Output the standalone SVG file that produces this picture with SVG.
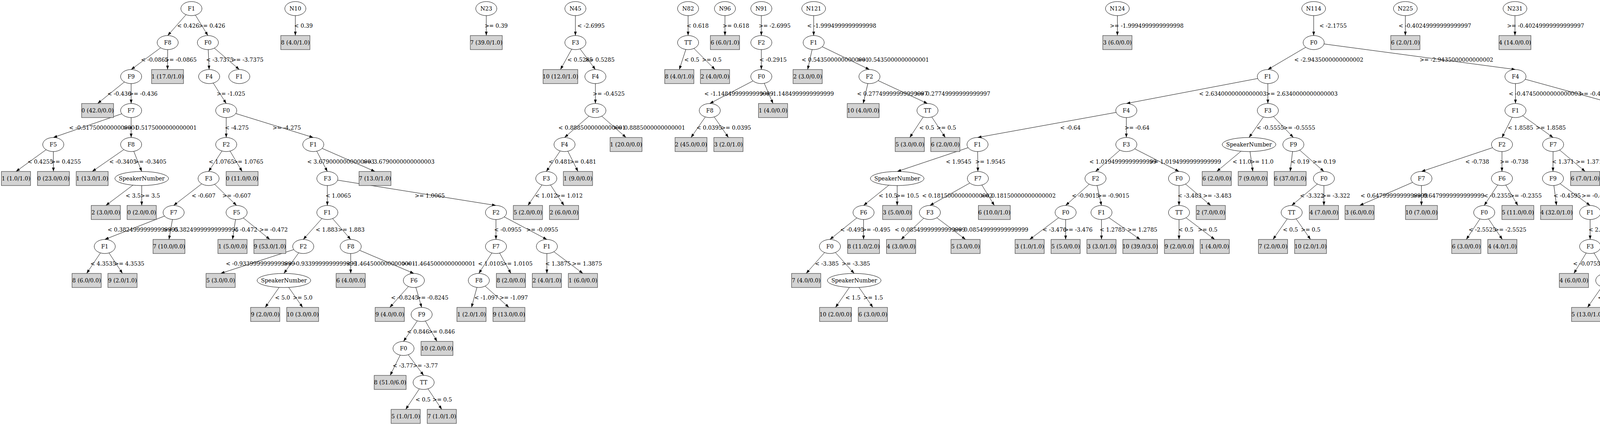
<svg xmlns="http://www.w3.org/2000/svg" width="4900" height="1088" viewBox="0 0 4900 1088">
<style>
text{font-family:"DejaVu Serif","Liberation Serif",serif;font-size:14px;text-anchor:middle;fill:#000}
.s{text-anchor:start}
.en{text-anchor:end}
.n ellipse{fill:#fff;stroke:#000;stroke-width:1}
.l rect{fill:#d3d3d3;stroke:#444;stroke-width:1.2}
#edges path{fill:none;stroke:#000;stroke-width:1;marker-end:url(#ah)}
</style>
<defs>
<marker id="ah" markerUnits="userSpaceOnUse" markerWidth="10" markerHeight="7" refX="10" refY="3.5" orient="auto">
<path d="M0,0L10,3.5L0,7z" fill="#000"/>
</marker>
</defs>
<rect width="4900" height="1088" fill="#fff"/>
<g id="edges">
<path d="M490,22L429.3,91"/><path d="M490,22L532.2,91"/>
<path d="M429.3,109L335.7,178"/><path d="M429.3,109L428.9,178"/>
<path d="M532.2,109L535.4,178"/><path d="M532.2,109L612.6,178"/>
<path d="M335.7,196L249.8,265"/><path d="M335.7,196L335.7,265"/>
<path d="M535.4,196L579.1,265"/>
<path d="M335.7,283L136.4,352"/><path d="M335.7,283L335.7,352"/>
<path d="M579.1,283L579.1,352"/><path d="M579.1,283L802,352"/>
<path d="M136.4,370L40.9,439"/><path d="M136.4,370L136.8,439"/>
<path d="M335.7,370L236,439"/><path d="M335.7,370L362.8,439"/>
<path d="M579.1,370L534,439"/><path d="M579.1,370L619.8,439"/>
<path d="M802,370L838,439"/><path d="M802,370L960,439"/>
<path d="M362.8,457L270.9,526"/><path d="M362.8,457L362.8,526"/>
<path d="M534,457L444.5,526"/><path d="M534,457L605.7,526"/>
<path d="M838,457L838,526"/><path d="M838,457L1269.7,526"/>
<path d="M444.5,544L268.2,613"/><path d="M444.5,544L432.6,613"/>
<path d="M605.7,544L595.2,613"/><path d="M605.7,544L690.8,613"/>
<path d="M838,544L776.3,613"/><path d="M838,544L897.8,613"/>
<path d="M1269.7,544L1269.7,613"/><path d="M1269.7,544L1400,613"/>
<path d="M268.2,631L221.8,700"/><path d="M268.2,631L313.6,700"/>
<path d="M776.3,631L564.8,700"/><path d="M776.3,631L726.8,700"/>
<path d="M897.8,631L897.8,700"/><path d="M897.8,631L1059.5,700"/>
<path d="M1269.7,631L1225.8,700"/><path d="M1269.7,631L1308,700"/>
<path d="M1400,631L1400,700"/><path d="M1400,631L1492.3,700"/>
<path d="M726.8,718L678.9,787"/><path d="M726.8,718L774.8,787"/>
<path d="M1059.5,718L997.8,787"/><path d="M1059.5,718L1079.4,787"/>
<path d="M1225.8,718L1207,787"/><path d="M1225.8,718L1302.9,787"/>
<path d="M1079.4,805L1033,874"/><path d="M1079.4,805L1118.7,874"/>
<path d="M1033,892L998.8,961"/><path d="M1033,892L1084.5,961"/>
<path d="M1084.5,979L1038.6,1048"/><path d="M1084.5,979L1131,1048"/>
<path d="M756.1,22L756.1,91"/>
<path d="M1244.9,22L1244.9,91"/>
<path d="M1473,22L1473,91"/>
<path d="M1473,109L1434.7,178"/><path d="M1473,109L1524.2,178"/>
<path d="M1524.2,196L1524.2,265"/>
<path d="M1524.2,283L1445.2,352"/><path d="M1524.2,283L1602.7,352"/>
<path d="M1445.2,370L1398.5,439"/><path d="M1445.2,370L1479.6,439"/>
<path d="M1398.5,457L1351.5,526"/><path d="M1398.5,457L1443.9,526"/>
<path d="M1761.5,22L1761.5,91"/>
<path d="M1761.5,109L1739,178"/><path d="M1761.5,109L1830.4,178"/>
<path d="M1855.9,22L1855.9,91"/>
<path d="M1949,22L1949,91"/>
<path d="M1949,109L1949,178"/>
<path d="M1949,196L1817,265"/><path d="M1949,196L1979,265"/>
<path d="M1817,283L1769,352"/><path d="M1817,283L1864.8,352"/>
<path d="M2083,22L2083,91"/>
<path d="M2083,109L2067.6,178"/><path d="M2083,109L2225.8,178"/>
<path d="M2225.8,196L2209.8,265"/><path d="M2225.8,196L2374.4,265"/>
<path d="M2374.4,283L2329,352"/><path d="M2374.4,283L2420,352"/>
<path d="M2860.5,22L2860.5,91"/>
<path d="M3363,22L3363,91"/>
<path d="M3363,109L3245.7,178"/><path d="M3363,109L3879.6,178"/>
<path d="M3245.7,196L2883.4,265"/><path d="M3245.7,196L3245.7,265"/>
<path d="M3879.6,196L3879.6,265"/><path d="M3879.6,196L4130.2,265"/>
<path d="M2883.4,283L2502.5,352"/><path d="M2883.4,283L2883.4,352"/>
<path d="M3245.7,283L3197.5,352"/><path d="M3245.7,283L3311,352"/>
<path d="M3879.6,283L3845.1,352"/><path d="M3879.6,283L3976,352"/>
<path d="M4130.2,283L4149.7,352"/>
<path d="M2502.5,370L2296.8,439"/><path d="M2502.5,370L2503.4,439"/>
<path d="M2883.4,370L2804.5,439"/><path d="M2883.4,370L3018.3,439"/>
<path d="M3197.5,370L3114.9,439"/><path d="M3197.5,370L3207.2,439"/>
<path d="M3311,370L3302.9,439"/><path d="M3311,370L3389.2,439"/>
<path d="M3845.1,370L3638.9,439"/><path d="M3845.1,370L3845,439"/>
<path d="M3976,370L3975.6,439"/><path d="M3976,370L4058,439"/>
<path d="M4149.7,370L4149.8,439"/><path d="M4149.7,370L4318.6,439"/>
<path d="M2296.8,457L2210.7,526"/><path d="M2296.8,457L2296.8,526"/>
<path d="M2503.4,457L2380.5,526"/><path d="M2503.4,457L2545.5,526"/>
<path d="M2804.5,457L2728,526"/><path d="M2804.5,457L2819.8,526"/>
<path d="M3018.3,457L3018.3,526"/><path d="M3018.3,457L3099.6,526"/>
<path d="M3389.2,457L3306.7,526"/><path d="M3389.2,457L3389.2,526"/>
<path d="M3638.9,457L3480.6,526"/><path d="M3638.9,457L3638.9,526"/>
<path d="M3845,457L3799.6,526"/><path d="M3845,457L3885.7,526"/>
<path d="M3975.6,457L3984.7,526"/><path d="M3975.6,457L4070.7,526"/>
<path d="M2210.7,544L2124.6,613"/><path d="M2210.7,544L2210.7,613"/>
<path d="M2380.5,544L2306.8,613"/><path d="M2380.5,544L2471.8,613"/>
<path d="M2728,544L2635.9,613"/><path d="M2728,544L2728,613"/>
<path d="M2819.8,544L2819.8,613"/><path d="M2819.8,544L2918.8,613"/>
<path d="M3018.3,544L3018.3,613"/><path d="M3018.3,544L3109.7,613"/>
<path d="M3306.7,544L3258.9,613"/><path d="M3306.7,544L3355,613"/>
<path d="M3799.6,544L3753.7,613"/><path d="M3799.6,544L3846,613"/>
<path d="M4070.7,544L4070.7,613"/>
<path d="M2124.6,631L2063.8,700"/><path d="M2124.6,631L2186.8,700"/>
<path d="M4070.7,631L4029.2,700"/><path d="M4070.7,631L4112,700"/>
<path d="M2186.8,718L2138.9,787"/><path d="M2186.8,718L2234.6,787"/>
<path d="M4112,718L4064,787"/><path d="M4112,718L4160,787"/>
<path d="M3597.7,22L3597.7,91"/>
<path d="M3878.3,22L3878.3,91"/>
<path d="M4361.7,22L4361.7,91"/>
<path d="M4361.7,109L4316.9,178"/><path d="M4361.7,109L4403,178"/>
<path d="M4316.9,196L4230.8,265"/><path d="M4316.9,196L4316.9,265"/>
<path d="M4403,196L4403,265"/><path d="M4403,196L4498.9,265"/>
<path d="M4316.9,283L4275,352"/><path d="M4316.9,283L4436.9,352"/>
<path d="M4520.1,22L4520.1,91"/>
<path d="M4686,22L4686,91"/>
<path d="M4686,109L4607.3,178"/><path d="M4686,109L4765.2,178"/>
</g>
<g id="edge-labels">
<text x="481.7" y="70.5">&lt; 0.426</text><text x="542.3" y="70.5">&gt;= 0.426</text>
<text x="396" y="157.5">&lt; -0.0865</text><text x="462.6" y="157.5">&gt;= -0.0865</text>
<text x="562.6" y="157.5">&lt; -3.7375</text><text x="633.7" y="157.5">&gt;= -3.7375</text>
<text x="305.4" y="244.5">&lt; -0.436</text><text x="366.9" y="244.5">&gt;= -0.436</text>
<text x="591.2" y="244.5">&gt;= -1.025</text>
<text class="s" x="176.8" y="331.5">&lt; -0.5175000000000001</text><text class="en" x="503.7" y="331.5">&gt;= -0.5175000000000001</text>
<text x="606.2" y="331.5">&lt; -4.275</text><text class="en" x="770.4" y="331.5">&gt;= -4.275</text>
<text x="103.3" y="418.5">&lt; 0.4255</text><text x="168.8" y="418.5">&gt;= 0.4255</text>
<text x="314.6" y="418.5">&lt; -0.3405</text><text x="385" y="418.5">&gt;= -0.3405</text>
<text x="567" y="418.5">&lt; 1.0765</text><text x="635.6" y="418.5">&gt;= 1.0765</text>
<text class="s" x="786.4" y="418.5">&lt; 3.6790000000000003</text><text class="en" x="1112.3" y="418.5">&gt;= 3.6790000000000003</text>
<text x="341" y="505.5">&lt; 3.5</text><text x="384.6" y="505.5">&gt;= 3.5</text>
<text x="521.2" y="505.5">&lt; -0.607</text><text x="605.7" y="505.5">&gt;= -0.607</text>
<text x="866" y="505.5">&lt; 1.0065</text><text x="1100.3" y="505.5">&gt;= 1.0065</text>
<text class="s" x="275.5" y="592.5">&lt; 0.38249999999999995</text><text class="en" x="610.7" y="592.5">&gt;= 0.38249999999999995</text>
<text class="en" x="658.8" y="592.5">&lt; -0.472</text><text x="700.3" y="592.5">&gt;= -0.472</text>
<text x="836.5" y="592.5">&lt; 1.883</text><text x="899.3" y="592.5">&gt;= 1.883</text>
<text x="1300" y="592.5">&lt; -0.0955</text><text x="1388" y="592.5">&gt;= -0.0955</text>
<text x="264" y="679.5">&lt; 4.3535</text><text x="331" y="679.5">&gt;= 4.3535</text>
<text class="s" x="578.2" y="679.5">&lt; -0.9339999999999999</text><text class="s" x="725" y="679.5">&gt;= -0.9339999999999999</text>
<text class="s" x="886.5" y="679.5">&lt; -1.4645000000000001</text><text class="en" x="1217.1" y="679.5">&gt;= -1.4645000000000001</text>
<text x="1256.4" y="679.5">&lt; 1.0105</text><text x="1324.9" y="679.5">&gt;= 1.0105</text>
<text x="1428.4" y="679.5">&lt; 1.3875</text><text x="1502.6" y="679.5">&gt;= 1.3875</text>
<text x="723.3" y="766.5">&lt; 5.0</text><text x="774.8" y="766.5">&gt;= 5.0</text>
<text x="1036" y="766.5">&lt; -0.8245</text><text x="1107" y="766.5">&gt;= -0.8245</text>
<text x="1244.7" y="766.5">&lt; -1.097</text><text x="1315" y="766.5">&gt;= -1.097</text>
<text x="1070.2" y="853.5">&lt; 0.846</text><text x="1130.4" y="853.5">&gt;= 0.846</text>
<text x="1031.4" y="940.5">&lt; -3.77</text><text x="1089" y="940.5">&gt;= -3.77</text>
<text x="1083" y="1027.5">&lt; 0.5</text><text x="1132" y="1027.5">&gt;= 0.5</text>
<text x="777" y="70.5">&lt; 0.39</text>
<text x="1270.2" y="70.5">&gt;= 0.39</text>
<text class="s" x="1478" y="70.5">&lt; -2.6995</text>
<text class="s" x="1452.6" y="157.5">&lt; 0.5285</text><text class="en" x="1573.3" y="157.5">&gt;= 0.5285</text>
<text x="1558.4" y="244.5">&gt;= -0.4525</text>
<text class="s" x="1429.6" y="331.5">&lt; 0.8885000000000001</text><text class="en" x="1753.8" y="331.5">&gt;= 0.8885000000000001</text>
<text x="1432.7" y="418.5">&lt; 0.481</text><text x="1492.3" y="418.5">&gt;= 0.481</text>
<text x="1398" y="505.5">&lt; 1.012</text><text x="1457.6" y="505.5">&gt;= 1.012</text>
<text x="1786" y="70.5">&lt; 0.618</text>
<text x="1771" y="157.5">&lt; 0.5</text><text x="1822" y="157.5">&gt;= 0.5</text>
<text x="1884" y="70.5">&gt;= 0.618</text>
<text x="1983" y="70.5">&gt;= -2.6995</text>
<text x="1979" y="157.5">&lt; -0.2915</text>
<text class="s" x="1803" y="244.5">&lt; -1.1484999999999999</text><text class="en" x="2134.6" y="244.5">&gt;= -1.1484999999999999</text>
<text x="1815.7" y="331.5">&lt; 0.0395</text><text x="1884.3" y="331.5">&gt;= 0.0395</text>
<text class="s" x="2066.3" y="70.5">&lt; -1.9994999999999998</text>
<text class="s" x="2052.3" y="157.5">&lt; 0.5435000000000001</text><text class="en" x="2378.2" y="157.5">&gt;= 0.5435000000000001</text>
<text class="s" x="2193.9" y="244.5">&lt; 0.27749999999999997</text><text class="en" x="2535.2" y="244.5">&gt;= 0.27749999999999997</text>
<text x="2372.4" y="331.5">&lt; 0.5</text><text x="2422.6" y="331.5">&gt;= 0.5</text>
<text class="s" x="2841.3" y="70.5">&gt;= -1.9994999999999998</text>
<text class="s" x="3377.7" y="70.5">&lt; -2.1755</text>
<text class="s" x="3313.3" y="157.5">&lt; -2.9435000000000002</text><text x="3728.5" y="157.5">&gt;= -2.9435000000000002</text>
<text class="s" x="3069.6" y="244.5">&lt; 2.6340000000000003</text><text class="s" x="3240.6" y="244.5">&gt;= 2.6340000000000003</text>
<text class="s" x="3862.4" y="244.5">&lt; -0.47450000000000003</text><text class="en" x="4240.3" y="244.5">&gt;= -0.47450000000000003</text>
<text x="2740" y="331.5">&lt; -0.64</text><text x="2910.8" y="331.5">&gt;= -0.64</text>
<text x="3252" y="331.5">&lt; -0.5555</text><text x="3326" y="331.5">&gt;= -0.5555</text>
<text x="3892.4" y="331.5">&lt; 1.8585</text><text x="3970" y="331.5">&gt;= 1.8585</text>
<text x="4170" y="331.5">&gt;= 0.445</text>
<text x="2454" y="418.5">&lt; 1.9545</text><text x="2535.3" y="418.5">&gt;= 1.9545</text>
<text class="s" x="2788.7" y="418.5">&lt; 1.0194999999999999</text><text class="en" x="3125.9" y="418.5">&gt;= 1.0194999999999999</text>
<text x="3179.3" y="418.5">&lt; 11.0</text><text x="3230.5" y="418.5">&gt;= 11.0</text>
<text x="3328.5" y="418.5">&lt; 0.19</text><text x="3389.8" y="418.5">&gt;= 0.19</text>
<text x="3781.7" y="418.5">&lt; -0.738</text><text x="3876.2" y="418.5">&gt;= -0.738</text>
<text x="4001.2" y="418.5">&lt; 1.371</text><text x="4068" y="418.5">&gt;= 1.371</text>
<text class="s" x="4132" y="418.5">&lt; -0.31799999999999995</text><text class="en" x="4484" y="418.5">&gt;= -0.31799999999999995</text>
<text x="2273.3" y="505.5">&lt; 10.5</text><text x="2323" y="505.5">&gt;= 10.5</text>
<text class="s" x="2360.4" y="505.5">&lt; 0.18150000000000002</text><text class="en" x="2702.6" y="505.5">&gt;= 0.18150000000000002</text>
<text x="2779" y="505.5">&lt; -0.9015</text><text x="2850" y="505.5">&gt;= -0.9015</text>
<text x="3045.3" y="505.5">&lt; -3.483</text><text x="3116" y="505.5">&gt;= -3.483</text>
<text x="3358.6" y="505.5">&lt; -3.322</text><text x="3419.8" y="505.5">&gt;= -3.322</text>
<text class="s" x="3483" y="505.5">&lt; 0.6479999999999999</text><text class="en" x="3799.6" y="505.5">&gt;= 0.6479999999999999</text>
<text x="3833" y="505.5">&lt; -0.2355</text><text x="3906" y="505.5">&gt;= -0.2355</text>
<text x="4012" y="505.5">&lt; -0.4595</text><text x="4089.5" y="505.5">&gt;= -0.4595</text>
<text x="2181.5" y="592.5">&lt; -0.495</text><text x="2243" y="592.5">&gt;= -0.495</text>
<text class="s" x="2290.6" y="592.5">&lt; 0.08549999999999999</text><text class="en" x="2632.5" y="592.5">&gt;= 0.08549999999999999</text>
<text x="2699.6" y="592.5">&lt; -3.476</text><text x="2760.5" y="592.5">&gt;= -3.476</text>
<text x="2847.8" y="592.5">&lt; 1.2785</text><text x="2924.3" y="592.5">&gt;= 1.2785</text>
<text x="3035.7" y="592.5">&lt; 0.5</text><text x="3091.6" y="592.5">&gt;= 0.5</text>
<text x="3303.6" y="592.5">&lt; 0.5</text><text x="3355.3" y="592.5">&gt;= 0.5</text>
<text x="3794.8" y="592.5">&lt; -2.5525</text><text x="3866.6" y="592.5">&gt;= -2.5525</text>
<text x="4095" y="592.5">&lt; 2.529</text>
<text x="2116.7" y="679.5">&lt; -3.385</text><text x="2191.1" y="679.5">&gt;= -3.385</text>
<text x="4062" y="679.5">&lt; -0.0755</text><text x="4133" y="679.5">&gt;= -0.0755</text>
<text x="2183.6" y="766.5">&lt; 1.5</text><text x="2235.3" y="766.5">&gt;= 1.5</text>
<text class="s" x="4090.4" y="766.5">&lt; 0.829</text><text class="s" x="4146" y="766.5">&gt;= 0.829</text>
<text class="s" x="3580.5" y="70.5">&lt; -0.40249999999999997</text>
<text class="s" x="3857.9" y="70.5">&gt;= -0.40249999999999997</text>
<text class="s" x="4345.6" y="70.5">&lt; 0.6825000000000001</text>
<text x="4350.2" y="157.5">&lt; -1.009</text><text x="4415.3" y="157.5">&gt;= -1.009</text>
<text x="4297" y="244.5">&lt; 0.5</text><text x="4339.5" y="244.5">&gt;= 0.5</text>
<text x="4427.4" y="244.5">&lt; 3.237</text><text x="4497" y="244.5">&gt;= 3.237</text>
<text class="s" x="4259.5" y="331.5">&lt; -2.6470000000000002</text><text class="en" x="4594.1" y="331.5">&gt;= -2.6470000000000002</text>
<text class="s" x="4503" y="70.5">&gt;= 0.6825000000000001</text>
<text class="s" x="4677.5" y="70.5">&gt;= -2.1755</text>
<text class="s" x="4591.3" y="157.5">&lt; 1.3014999999999999</text><text class="s" x="4745" y="157.5">&gt;= 1.3014999999999999</text>
</g>
<g id="tree-N1">
<g id="a1" class="n" transform="translate(490 22)"><ellipse rx="27" ry="18"/><text y="5">F1</text></g>
<g id="a2" class="n" transform="translate(429.3 109)"><ellipse rx="27" ry="18"/><text y="5">F8</text></g>
<g id="a3" class="n" transform="translate(532.2 109)"><ellipse rx="27" ry="18"/><text y="5">F0</text></g>
<g id="a4" class="n" transform="translate(335.7 196)"><ellipse rx="27" ry="18"/><text y="5">F9</text></g>
<g id="a5" class="l" transform="translate(428.9 196)"><rect x="-40.85" y="-18" width="81.7" height="36"/><text y="5">1 (17.0/1.0)</text></g>
<g id="a6" class="n" transform="translate(535.4 196)"><ellipse rx="27" ry="18"/><text y="5">F4</text></g>
<g id="a7" class="n" transform="translate(612.6 196)"><ellipse rx="27" ry="18"/><text y="5">F1</text></g>
<g id="a8" class="l" transform="translate(249.8 283)"><rect x="-40.85" y="-18" width="81.7" height="36"/><text y="5">0 (42.0/0.0)</text></g>
<g id="a9" class="n" transform="translate(335.7 283)"><ellipse rx="27" ry="18"/><text y="5">F7</text></g>
<g id="a10" class="n" transform="translate(579.1 283)"><ellipse rx="27" ry="18"/><text y="5">F0</text></g>
<g id="a11" class="n" transform="translate(136.4 370)"><ellipse rx="27" ry="18"/><text y="5">F5</text></g>
<g id="a12" class="n" transform="translate(335.7 370)"><ellipse rx="27" ry="18"/><text y="5">F8</text></g>
<g id="a13" class="n" transform="translate(579.1 370)"><ellipse rx="27" ry="18"/><text y="5">F2</text></g>
<g id="a14" class="n" transform="translate(802 370)"><ellipse rx="27" ry="18"/><text y="5">F1</text></g>
<g id="a15" class="l" transform="translate(40.9 457)"><rect x="-37.35" y="-18" width="74.7" height="36"/><text y="5">1 (1.0/1.0)</text></g>
<g id="a16" class="l" transform="translate(136.8 457)"><rect x="-40.85" y="-18" width="81.7" height="36"/><text y="5">0 (23.0/0.0)</text></g>
<g id="a17" class="l" transform="translate(236 457)"><rect x="-40.85" y="-18" width="81.7" height="36"/><text y="5">1 (13.0/1.0)</text></g>
<g id="a18" class="n" transform="translate(362.8 457)"><ellipse rx="68.75" ry="18"/><text y="5">SpeakerNumber</text></g>
<g id="a19" class="n" transform="translate(534 457)"><ellipse rx="27" ry="18"/><text y="5">F3</text></g>
<g id="a20" class="l" transform="translate(619.8 457)"><rect x="-40.85" y="-18" width="81.7" height="36"/><text y="5">0 (11.0/0.0)</text></g>
<g id="a21" class="n" transform="translate(838 457)"><ellipse rx="27" ry="18"/><text y="5">F3</text></g>
<g id="a22" class="l" transform="translate(960 457)"><rect x="-40.85" y="-18" width="81.7" height="36"/><text y="5">7 (13.0/1.0)</text></g>
<g id="a23" class="l" transform="translate(270.9 544)"><rect x="-37.35" y="-18" width="74.7" height="36"/><text y="5">2 (3.0/0.0)</text></g>
<g id="a24" class="l" transform="translate(362.8 544)"><rect x="-37.35" y="-18" width="74.7" height="36"/><text y="5">0 (2.0/0.0)</text></g>
<g id="a25" class="n" transform="translate(444.5 544)"><ellipse rx="27" ry="18"/><text y="5">F7</text></g>
<g id="a26" class="n" transform="translate(605.7 544)"><ellipse rx="27" ry="18"/><text y="5">F5</text></g>
<g id="a27" class="n" transform="translate(838 544)"><ellipse rx="27" ry="18"/><text y="5">F1</text></g>
<g id="a28" class="n" transform="translate(1269.7 544)"><ellipse rx="27" ry="18"/><text y="5">F2</text></g>
<g id="a29" class="n" transform="translate(268.2 631)"><ellipse rx="27" ry="18"/><text y="5">F1</text></g>
<g id="a30" class="l" transform="translate(432.6 631)"><rect x="-40.85" y="-18" width="81.7" height="36"/><text y="5">7 (10.0/0.0)</text></g>
<g id="a31" class="l" transform="translate(595.2 631)"><rect x="-37.35" y="-18" width="74.7" height="36"/><text y="5">1 (5.0/0.0)</text></g>
<g id="a32" class="l" transform="translate(690.8 631)"><rect x="-40.85" y="-18" width="81.7" height="36"/><text y="5">9 (53.0/1.0)</text></g>
<g id="a33" class="n" transform="translate(776.3 631)"><ellipse rx="27" ry="18"/><text y="5">F2</text></g>
<g id="a34" class="n" transform="translate(897.8 631)"><ellipse rx="27" ry="18"/><text y="5">F8</text></g>
<g id="a35" class="n" transform="translate(1269.7 631)"><ellipse rx="27" ry="18"/><text y="5">F7</text></g>
<g id="a36" class="n" transform="translate(1400 631)"><ellipse rx="27" ry="18"/><text y="5">F1</text></g>
<g id="a37" class="l" transform="translate(221.8 718)"><rect x="-37.35" y="-18" width="74.7" height="36"/><text y="5">8 (6.0/0.0)</text></g>
<g id="a38" class="l" transform="translate(313.6 718)"><rect x="-37.35" y="-18" width="74.7" height="36"/><text y="5">9 (2.0/1.0)</text></g>
<g id="a39" class="l" transform="translate(564.8 718)"><rect x="-37.35" y="-18" width="74.7" height="36"/><text y="5">5 (3.0/0.0)</text></g>
<g id="a40" class="n" transform="translate(726.8 718)"><ellipse rx="68.75" ry="18"/><text y="5">SpeakerNumber</text></g>
<g id="a41" class="l" transform="translate(897.8 718)"><rect x="-37.35" y="-18" width="74.7" height="36"/><text y="5">6 (4.0/0.0)</text></g>
<g id="a42" class="n" transform="translate(1059.5 718)"><ellipse rx="27" ry="18"/><text y="5">F6</text></g>
<g id="a43" class="n" transform="translate(1225.8 718)"><ellipse rx="27" ry="18"/><text y="5">F8</text></g>
<g id="a44" class="l" transform="translate(1308 718)"><rect x="-37.35" y="-18" width="74.7" height="36"/><text y="5">8 (2.0/0.0)</text></g>
<g id="a45" class="l" transform="translate(1400 718)"><rect x="-37.35" y="-18" width="74.7" height="36"/><text y="5">2 (4.0/1.0)</text></g>
<g id="a46" class="l" transform="translate(1492.3 718)"><rect x="-37.35" y="-18" width="74.7" height="36"/><text y="5">1 (6.0/0.0)</text></g>
<g id="a47" class="l" transform="translate(678.9 805)"><rect x="-37.35" y="-18" width="74.7" height="36"/><text y="5">9 (2.0/0.0)</text></g>
<g id="a48" class="l" transform="translate(774.8 805)"><rect x="-40.85" y="-18" width="81.7" height="36"/><text y="5">10 (3.0/0.0)</text></g>
<g id="a49" class="l" transform="translate(997.8 805)"><rect x="-37.35" y="-18" width="74.7" height="36"/><text y="5">9 (4.0/0.0)</text></g>
<g id="a50" class="n" transform="translate(1079.4 805)"><ellipse rx="27" ry="18"/><text y="5">F9</text></g>
<g id="a51" class="l" transform="translate(1207 805)"><rect x="-37.35" y="-18" width="74.7" height="36"/><text y="5">1 (2.0/1.0)</text></g>
<g id="a52" class="l" transform="translate(1302.9 805)"><rect x="-40.85" y="-18" width="81.7" height="36"/><text y="5">9 (13.0/0.0)</text></g>
<g id="a53" class="n" transform="translate(1033 892)"><ellipse rx="27" ry="18"/><text y="5">F0</text></g>
<g id="a54" class="l" transform="translate(1118.7 892)"><rect x="-40.85" y="-18" width="81.7" height="36"/><text y="5">10 (2.0/0.0)</text></g>
<g id="a55" class="l" transform="translate(998.8 979)"><rect x="-40.85" y="-18" width="81.7" height="36"/><text y="5">8 (51.0/6.0)</text></g>
<g id="a56" class="n" transform="translate(1084.5 979)"><ellipse rx="27" ry="18"/><text y="5">TT</text></g>
<g id="a57" class="l" transform="translate(1038.6 1066)"><rect x="-37.35" y="-18" width="74.7" height="36"/><text y="5">5 (1.0/1.0)</text></g>
<g id="a58" class="l" transform="translate(1131 1066)"><rect x="-37.35" y="-18" width="74.7" height="36"/><text y="5">7 (1.0/1.0)</text></g>
</g>
<g id="tree-N10">
<g id="b1" class="n" transform="translate(756.1 22)"><ellipse rx="27" ry="18"/><text y="5">N10</text></g>
<g id="b2" class="l" transform="translate(756.1 109)"><rect x="-37.35" y="-18" width="74.7" height="36"/><text y="5">8 (4.0/1.0)</text></g>
</g>
<g id="tree-N23">
<g id="c1" class="n" transform="translate(1244.9 22)"><ellipse rx="27" ry="18"/><text y="5">N23</text></g>
<g id="c2" class="l" transform="translate(1244.9 109)"><rect x="-40.85" y="-18" width="81.7" height="36"/><text y="5">7 (39.0/1.0)</text></g>
</g>
<g id="tree-N45">
<g id="d1" class="n" transform="translate(1473 22)"><ellipse rx="27" ry="18"/><text y="5">N45</text></g>
<g id="d2" class="n" transform="translate(1473 109)"><ellipse rx="27" ry="18"/><text y="5">F3</text></g>
<g id="d3" class="l" transform="translate(1434.7 196)"><rect x="-44.35" y="-18" width="88.7" height="36"/><text y="5">10 (12.0/1.0)</text></g>
<g id="d4" class="n" transform="translate(1524.2 196)"><ellipse rx="27" ry="18"/><text y="5">F4</text></g>
<g id="d5" class="n" transform="translate(1524.2 283)"><ellipse rx="27" ry="18"/><text y="5">F5</text></g>
<g id="d6" class="n" transform="translate(1445.2 370)"><ellipse rx="27" ry="18"/><text y="5">F4</text></g>
<g id="d7" class="l" transform="translate(1602.7 370)"><rect x="-40.85" y="-18" width="81.7" height="36"/><text y="5">1 (20.0/0.0)</text></g>
<g id="d8" class="n" transform="translate(1398.5 457)"><ellipse rx="27" ry="18"/><text y="5">F3</text></g>
<g id="d9" class="l" transform="translate(1479.6 457)"><rect x="-37.35" y="-18" width="74.7" height="36"/><text y="5">1 (9.0/0.0)</text></g>
<g id="d10" class="l" transform="translate(1351.5 544)"><rect x="-37.35" y="-18" width="74.7" height="36"/><text y="5">5 (2.0/0.0)</text></g>
<g id="d11" class="l" transform="translate(1443.9 544)"><rect x="-37.35" y="-18" width="74.7" height="36"/><text y="5">2 (6.0/0.0)</text></g>
</g>
<g id="tree-N82">
<g id="e1" class="n" transform="translate(1761.5 22)"><ellipse rx="27" ry="18"/><text y="5">N82</text></g>
<g id="e2" class="n" transform="translate(1761.5 109)"><ellipse rx="27" ry="18"/><text y="5">TT</text></g>
<g id="e3" class="l" transform="translate(1739 196)"><rect x="-37.35" y="-18" width="74.7" height="36"/><text y="5">8 (4.0/1.0)</text></g>
<g id="e4" class="l" transform="translate(1830.4 196)"><rect x="-37.35" y="-18" width="74.7" height="36"/><text y="5">2 (4.0/0.0)</text></g>
</g>
<g id="tree-N96">
<g id="f1" class="n" transform="translate(1855.9 22)"><ellipse rx="27" ry="18"/><text y="5">N96</text></g>
<g id="f2" class="l" transform="translate(1855.9 109)"><rect x="-37.35" y="-18" width="74.7" height="36"/><text y="5">6 (6.0/1.0)</text></g>
</g>
<g id="tree-N91">
<g id="g1" class="n" transform="translate(1949 22)"><ellipse rx="27" ry="18"/><text y="5">N91</text></g>
<g id="g2" class="n" transform="translate(1949 109)"><ellipse rx="27" ry="18"/><text y="5">F2</text></g>
<g id="g3" class="n" transform="translate(1949 196)"><ellipse rx="27" ry="18"/><text y="5">F0</text></g>
<g id="g4" class="n" transform="translate(1817 283)"><ellipse rx="27" ry="18"/><text y="5">F8</text></g>
<g id="g5" class="l" transform="translate(1979 283)"><rect x="-37.35" y="-18" width="74.7" height="36"/><text y="5">1 (4.0/0.0)</text></g>
<g id="g6" class="l" transform="translate(1769 370)"><rect x="-40.85" y="-18" width="81.7" height="36"/><text y="5">2 (45.0/0.0)</text></g>
<g id="g7" class="l" transform="translate(1864.8 370)"><rect x="-37.35" y="-18" width="74.7" height="36"/><text y="5">3 (2.0/1.0)</text></g>
</g>
<g id="tree-N121">
<g id="h1" class="n" transform="translate(2083 22)"><ellipse rx="30.5" ry="18"/><text y="5">N121</text></g>
<g id="h2" class="n" transform="translate(2083 109)"><ellipse rx="27" ry="18"/><text y="5">F1</text></g>
<g id="h3" class="l" transform="translate(2067.6 196)"><rect x="-37.35" y="-18" width="74.7" height="36"/><text y="5">2 (3.0/0.0)</text></g>
<g id="h4" class="n" transform="translate(2225.8 196)"><ellipse rx="27" ry="18"/><text y="5">F2</text></g>
<g id="h5" class="l" transform="translate(2209.8 283)"><rect x="-40.85" y="-18" width="81.7" height="36"/><text y="5">10 (4.0/0.0)</text></g>
<g id="h6" class="n" transform="translate(2374.4 283)"><ellipse rx="27" ry="18"/><text y="5">TT</text></g>
<g id="h7" class="l" transform="translate(2329 370)"><rect x="-37.35" y="-18" width="74.7" height="36"/><text y="5">5 (3.0/0.0)</text></g>
<g id="h8" class="l" transform="translate(2420 370)"><rect x="-37.35" y="-18" width="74.7" height="36"/><text y="5">6 (2.0/0.0)</text></g>
</g>
<g id="tree-N124">
<g id="i1" class="n" transform="translate(2860.5 22)"><ellipse rx="30.5" ry="18"/><text y="5">N124</text></g>
<g id="i2" class="l" transform="translate(2860.5 109)"><rect x="-37.35" y="-18" width="74.7" height="36"/><text y="5">3 (6.0/0.0)</text></g>
</g>
<g id="tree-N114">
<g id="j1" class="n" transform="translate(3363 22)"><ellipse rx="30.5" ry="18"/><text y="5">N114</text></g>
<g id="j2" class="n" transform="translate(3363 109)"><ellipse rx="27" ry="18"/><text y="5">F0</text></g>
<g id="j3" class="n" transform="translate(3245.7 196)"><ellipse rx="27" ry="18"/><text y="5">F1</text></g>
<g id="j4" class="n" transform="translate(3879.6 196)"><ellipse rx="27" ry="18"/><text y="5">F4</text></g>
<g id="j5" class="n" transform="translate(2883.4 283)"><ellipse rx="27" ry="18"/><text y="5">F4</text></g>
<g id="j6" class="n" transform="translate(3245.7 283)"><ellipse rx="27" ry="18"/><text y="5">F3</text></g>
<g id="j7" class="n" transform="translate(3879.6 283)"><ellipse rx="27" ry="18"/><text y="5">F1</text></g>
<g id="j8" class="n" transform="translate(4130.2 283)"><ellipse rx="27" ry="18"/><text y="5">F3</text></g>
<g id="j9" class="n" transform="translate(2502.5 370)"><ellipse rx="27" ry="18"/><text y="5">F1</text></g>
<g id="j10" class="n" transform="translate(2883.4 370)"><ellipse rx="27" ry="18"/><text y="5">F3</text></g>
<g id="j11" class="n" transform="translate(3197.5 370)"><ellipse rx="68.75" ry="18"/><text y="5">SpeakerNumber</text></g>
<g id="j12" class="n" transform="translate(3311 370)"><ellipse rx="27" ry="18"/><text y="5">F9</text></g>
<g id="j13" class="n" transform="translate(3845.1 370)"><ellipse rx="27" ry="18"/><text y="5">F2</text></g>
<g id="j14" class="n" transform="translate(3976 370)"><ellipse rx="27" ry="18"/><text y="5">F7</text></g>
<g id="j15" class="n" transform="translate(4149.7 370)"><ellipse rx="27" ry="18"/><text y="5">F4</text></g>
<g id="j16" class="n" transform="translate(2296.8 457)"><ellipse rx="68.75" ry="18"/><text y="5">SpeakerNumber</text></g>
<g id="j17" class="n" transform="translate(2503.4 457)"><ellipse rx="27" ry="18"/><text y="5">F7</text></g>
<g id="j18" class="n" transform="translate(2804.5 457)"><ellipse rx="27" ry="18"/><text y="5">F2</text></g>
<g id="j19" class="n" transform="translate(3018.3 457)"><ellipse rx="27" ry="18"/><text y="5">F0</text></g>
<g id="j20" class="l" transform="translate(3114.9 457)"><rect x="-37.35" y="-18" width="74.7" height="36"/><text y="5">6 (2.0/0.0)</text></g>
<g id="j21" class="l" transform="translate(3207.2 457)"><rect x="-37.35" y="-18" width="74.7" height="36"/><text y="5">7 (9.0/0.0)</text></g>
<g id="j22" class="l" transform="translate(3302.9 457)"><rect x="-40.85" y="-18" width="81.7" height="36"/><text y="5">6 (37.0/1.0)</text></g>
<g id="j23" class="n" transform="translate(3389.2 457)"><ellipse rx="27" ry="18"/><text y="5">F0</text></g>
<g id="j24" class="n" transform="translate(3638.9 457)"><ellipse rx="27" ry="18"/><text y="5">F7</text></g>
<g id="j25" class="n" transform="translate(3845 457)"><ellipse rx="27" ry="18"/><text y="5">F6</text></g>
<g id="j26" class="n" transform="translate(3975.6 457)"><ellipse rx="27" ry="18"/><text y="5">F9</text></g>
<g id="j27" class="l" transform="translate(4058 457)"><rect x="-37.35" y="-18" width="74.7" height="36"/><text y="5">6 (7.0/1.0)</text></g>
<g id="j28" class="l" transform="translate(4149.8 457)"><rect x="-37.35" y="-18" width="74.7" height="36"/><text y="5">3 (6.0/0.0)</text></g>
<g id="j29" class="l" transform="translate(4318.6 457)"><rect x="-37.35" y="-18" width="74.7" height="36"/><text y="5">2 (5.0/1.0)</text></g>
<g id="j30" class="n" transform="translate(2210.7 544)"><ellipse rx="27" ry="18"/><text y="5">F6</text></g>
<g id="j31" class="l" transform="translate(2296.8 544)"><rect x="-37.35" y="-18" width="74.7" height="36"/><text y="5">3 (5.0/0.0)</text></g>
<g id="j32" class="n" transform="translate(2380.5 544)"><ellipse rx="27" ry="18"/><text y="5">F3</text></g>
<g id="j33" class="l" transform="translate(2545.5 544)"><rect x="-40.85" y="-18" width="81.7" height="36"/><text y="5">6 (10.0/1.0)</text></g>
<g id="j34" class="n" transform="translate(2728 544)"><ellipse rx="27" ry="18"/><text y="5">F0</text></g>
<g id="j35" class="n" transform="translate(2819.8 544)"><ellipse rx="27" ry="18"/><text y="5">F1</text></g>
<g id="j36" class="n" transform="translate(3018.3 544)"><ellipse rx="27" ry="18"/><text y="5">TT</text></g>
<g id="j37" class="l" transform="translate(3099.6 544)"><rect x="-37.35" y="-18" width="74.7" height="36"/><text y="5">2 (7.0/0.0)</text></g>
<g id="j38" class="n" transform="translate(3306.7 544)"><ellipse rx="27" ry="18"/><text y="5">TT</text></g>
<g id="j39" class="l" transform="translate(3389.2 544)"><rect x="-37.35" y="-18" width="74.7" height="36"/><text y="5">4 (7.0/0.0)</text></g>
<g id="j40" class="l" transform="translate(3480.6 544)"><rect x="-37.35" y="-18" width="74.7" height="36"/><text y="5">3 (6.0/0.0)</text></g>
<g id="j41" class="l" transform="translate(3638.9 544)"><rect x="-40.85" y="-18" width="81.7" height="36"/><text y="5">10 (7.0/0.0)</text></g>
<g id="j42" class="n" transform="translate(3799.6 544)"><ellipse rx="27" ry="18"/><text y="5">F0</text></g>
<g id="j43" class="l" transform="translate(3885.7 544)"><rect x="-40.85" y="-18" width="81.7" height="36"/><text y="5">5 (11.0/0.0)</text></g>
<g id="j44" class="l" transform="translate(3984.7 544)"><rect x="-40.85" y="-18" width="81.7" height="36"/><text y="5">4 (32.0/1.0)</text></g>
<g id="j45" class="n" transform="translate(4070.7 544)"><ellipse rx="27" ry="18"/><text y="5">F1</text></g>
<g id="j46" class="n" transform="translate(2124.6 631)"><ellipse rx="27" ry="18"/><text y="5">F0</text></g>
<g id="j47" class="l" transform="translate(2210.7 631)"><rect x="-40.85" y="-18" width="81.7" height="36"/><text y="5">8 (11.0/2.0)</text></g>
<g id="j48" class="l" transform="translate(2306.8 631)"><rect x="-37.35" y="-18" width="74.7" height="36"/><text y="5">4 (3.0/0.0)</text></g>
<g id="j49" class="l" transform="translate(2471.8 631)"><rect x="-37.35" y="-18" width="74.7" height="36"/><text y="5">5 (3.0/0.0)</text></g>
<g id="j50" class="l" transform="translate(2635.9 631)"><rect x="-37.35" y="-18" width="74.7" height="36"/><text y="5">3 (1.0/1.0)</text></g>
<g id="j51" class="l" transform="translate(2728 631)"><rect x="-37.35" y="-18" width="74.7" height="36"/><text y="5">5 (5.0/0.0)</text></g>
<g id="j52" class="l" transform="translate(2819.8 631)"><rect x="-37.35" y="-18" width="74.7" height="36"/><text y="5">3 (3.0/1.0)</text></g>
<g id="j53" class="l" transform="translate(2918.8 631)"><rect x="-44.35" y="-18" width="88.7" height="36"/><text y="5">10 (39.0/3.0)</text></g>
<g id="j54" class="l" transform="translate(3018.3 631)"><rect x="-37.35" y="-18" width="74.7" height="36"/><text y="5">9 (2.0/0.0)</text></g>
<g id="j55" class="l" transform="translate(3109.7 631)"><rect x="-37.35" y="-18" width="74.7" height="36"/><text y="5">1 (4.0/0.0)</text></g>
<g id="j56" class="l" transform="translate(3258.9 631)"><rect x="-37.35" y="-18" width="74.7" height="36"/><text y="5">7 (2.0/0.0)</text></g>
<g id="j57" class="l" transform="translate(3355 631)"><rect x="-40.85" y="-18" width="81.7" height="36"/><text y="5">10 (2.0/1.0)</text></g>
<g id="j58" class="l" transform="translate(3753.7 631)"><rect x="-37.35" y="-18" width="74.7" height="36"/><text y="5">6 (3.0/0.0)</text></g>
<g id="j59" class="l" transform="translate(3846 631)"><rect x="-37.35" y="-18" width="74.7" height="36"/><text y="5">4 (4.0/1.0)</text></g>
<g id="j60" class="n" transform="translate(4070.7 631)"><ellipse rx="27" ry="18"/><text y="5">F3</text></g>
<g id="j61" class="l" transform="translate(2063.8 718)"><rect x="-37.35" y="-18" width="74.7" height="36"/><text y="5">7 (4.0/0.0)</text></g>
<g id="j62" class="n" transform="translate(2186.8 718)"><ellipse rx="68.75" ry="18"/><text y="5">SpeakerNumber</text></g>
<g id="j63" class="l" transform="translate(4029.2 718)"><rect x="-37.35" y="-18" width="74.7" height="36"/><text y="5">4 (6.0/0.0)</text></g>
<g id="j64" class="n" transform="translate(4112 718)"><ellipse rx="27" ry="18"/><text y="5">F3</text></g>
<g id="j65" class="l" transform="translate(2138.9 805)"><rect x="-40.85" y="-18" width="81.7" height="36"/><text y="5">10 (2.0/0.0)</text></g>
<g id="j66" class="l" transform="translate(2234.6 805)"><rect x="-37.35" y="-18" width="74.7" height="36"/><text y="5">6 (3.0/0.0)</text></g>
<g id="j67" class="l" transform="translate(4064 805)"><rect x="-40.85" y="-18" width="81.7" height="36"/><text y="5">5 (13.0/1.0)</text></g>
<g id="j68" class="l" transform="translate(4160 805)"><rect x="-37.35" y="-18" width="74.7" height="36"/><text y="5">4 (4.0/1.0)</text></g>
</g>
<g id="tree-N225">
<g id="k1" class="n" transform="translate(3597.7 22)"><ellipse rx="30.5" ry="18"/><text y="5">N225</text></g>
<g id="k2" class="l" transform="translate(3597.7 109)"><rect x="-37.35" y="-18" width="74.7" height="36"/><text y="5">6 (2.0/1.0)</text></g>
</g>
<g id="tree-N231">
<g id="l1" class="n" transform="translate(3878.3 22)"><ellipse rx="30.5" ry="18"/><text y="5">N231</text></g>
<g id="l2" class="l" transform="translate(3878.3 109)"><rect x="-40.85" y="-18" width="81.7" height="36"/><text y="5">4 (14.0/0.0)</text></g>
</g>
<g id="tree-N235">
<g id="m1" class="n" transform="translate(4361.7 22)"><ellipse rx="30.5" ry="18"/><text y="5">N235</text></g>
<g id="m2" class="n" transform="translate(4361.7 109)"><ellipse rx="27" ry="18"/><text y="5">F8</text></g>
<g id="m3" class="n" transform="translate(4316.9 196)"><ellipse rx="27" ry="18"/><text y="5">TT</text></g>
<g id="m4" class="n" transform="translate(4403 196)"><ellipse rx="27" ry="18"/><text y="5">F1</text></g>
<g id="m5" class="l" transform="translate(4230.8 283)"><rect x="-40.85" y="-18" width="81.7" height="36"/><text y="5">10 (6.0/0.0)</text></g>
<g id="m6" class="n" transform="translate(4316.9 283)"><ellipse rx="27" ry="18"/><text y="5">F0</text></g>
<g id="m7" class="l" transform="translate(4403 283)"><rect x="-40.85" y="-18" width="81.7" height="36"/><text y="5">5 (29.0/0.0)</text></g>
<g id="m8" class="l" transform="translate(4498.9 283)"><rect x="-37.35" y="-18" width="74.7" height="36"/><text y="5">4 (3.0/1.0)</text></g>
<g id="m9" class="l" transform="translate(4275 370)"><rect x="-37.35" y="-18" width="74.7" height="36"/><text y="5">6 (2.0/0.0)</text></g>
<g id="m10" class="l" transform="translate(4436.9 370)"><rect x="-37.35" y="-18" width="74.7" height="36"/><text y="5">4 (2.0/0.0)</text></g>
</g>
<g id="tree-N239">
<g id="n1" class="n" transform="translate(4520.1 22)"><ellipse rx="30.5" ry="18"/><text y="5">N239</text></g>
<g id="n2" class="l" transform="translate(4520.1 109)"><rect x="-37.35" y="-18" width="74.7" height="36"/><text y="5">3 (6.0/0.0)</text></g>
</g>
<g id="tree-N138">
<g id="o1" class="n" transform="translate(4686 22)"><ellipse rx="30.5" ry="18"/><text y="5">N138</text></g>
<g id="o2" class="n" transform="translate(4686 109)"><ellipse rx="27" ry="18"/><text y="5">F3</text></g>
<g id="o3" class="l" transform="translate(4607.3 196)"><rect x="-40.85" y="-18" width="81.7" height="36"/><text y="5">3 (42.0/0.0)</text></g>
<g id="o4" class="l" transform="translate(4765.2 196)"><rect x="-37.35" y="-18" width="74.7" height="36"/><text y="5">5 (6.0/0.0)</text></g>
</g>
</svg>
